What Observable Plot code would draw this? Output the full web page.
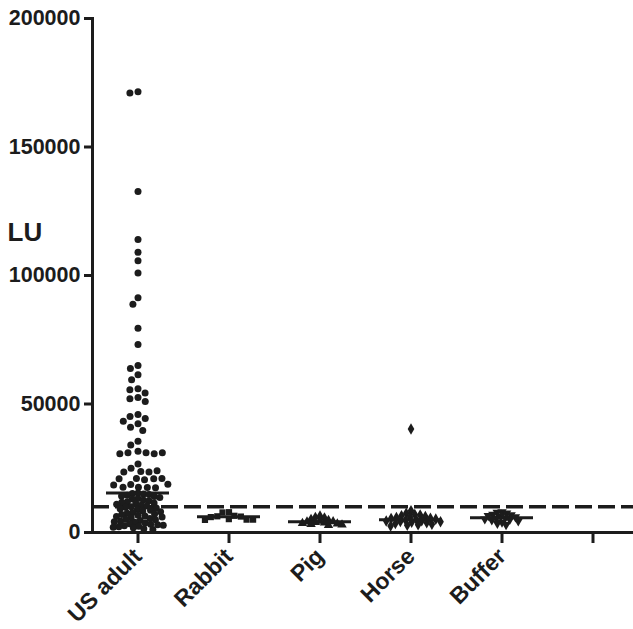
<!DOCTYPE html>
<html><head><meta charset="utf-8">
<script src="https://cdn.jsdelivr.net/npm/d3@7"></script>
<script src="https://cdn.jsdelivr.net/npm/@observablehq/plot@0.6"></script>
<style>html,body{margin:0;padding:0;background:#fff} svg{display:block}</style>
</head><body><div id="chart"></div>
<script>
const groups = ["US adult", "Rabbit", "Pig", "Horse", "Buffer", " "];
const usAdult = [171500, 171000, 132700, 114000, 109000, 105700, 101000, 91300, 88800, 79500,
  73200, 65000, 63800, 61400, 59400, 55900, 55500, 54300, 52500, 52000, 51000,
  45900, 45100, 44400, 43300, 42300, 41000, 39700, 35500, 34000,
  31600, 31000, 31000, 30600, 30600, 31000, 26700, 25000, 23700, 23500, 23500, 24000,
  21000, 20900, 20900, 21000, 20500, 18700, 18500, 18800, 17600, 17500, 17600, 17400,
  15400, 15200, 15000, 14800, 14500, 14200, 14000, 13600, 13200, 13000,
  12600, 12400, 12000, 11800, 11500, 11200, 11000, 10600, 10300, 10000,
  9800, 9500, 9200, 9000, 8700, 8400, 8100, 7800, 7500, 7200,
  7000, 6700, 6400, 6200, 6000, 5700, 5400, 5200, 5000, 4700,
  4400, 4200, 4000, 3700, 3400, 3200, 3000, 2800, 2600, 2400,
  2200, 2000, 1800, 1500, 1200];
const rabbit = [7900, 7800, 6500, 6300, 6200, 6000, 5200, 5000, 5000, 4900];
const pig = [6500, 6000, 5800, 5200, 4800, 4500, 4300, 4200, 4000, 3800, 3600, 3400, 3200, 3000, 2800];
const horse = [40300, 8500, 7500, 7000, 6800, 6500, 6200, 6000, 5800, 5500, 5400, 5200, 5000,
  4800, 4600, 4500, 4300, 4200, 4000, 3800, 3500, 3200, 3000, 2800, 2500];
const buffer = [8000, 7800, 7500, 7000, 6800, 6500, 6200, 6000, 5700, 5500, 5200, 5000, 4800, 4500, 4000, 3500, 3000];
const yTicks = [0, 50000, 100000, 150000, 200000];
const cutoff = 10000;
const yLabel = "LU";

const series = [usAdult, rabbit, pig, horse, buffer];
const data = series.flatMap((vals, i) => vals.map(v => ({group: groups[i], value: v})));

// swarm layers: [group, lower bound, upper bound, dodge padding]
const swarmLayers = [
  ["US adult", 16000, Infinity, 1.2],
  ["US adult", -Infinity, 16000, -1.4],
  ["Rabbit", -Infinity, Infinity, -0.5],
  ["Pig", -Infinity, Infinity, -2.2],
  ["Horse", -Infinity, Infinity, -1.6],
  ["Buffer", -Infinity, Infinity, -2.2]
];

const triangleDown = {
  draw(context, size) {
    const s3 = Math.sqrt(3);
    const y = -Math.sqrt(size / (s3 * 3));
    context.moveTo(0, -y * 2);
    context.lineTo(-s3 * y, y);
    context.lineTo(s3 * y, y);
    context.closePath();
  }
};

const ink = "#1c1c1c";
const dotMarks = swarmLayers.map(([g, lo, hi, pad]) =>
  Plot.dot(data.filter(d => d.group === g && d.value >= lo && d.value < hi),
    Plot.dodgeX({anchor: "middle", padding: pad},
      {fx: "group", y: "value", r: 3.5, symbol: "group", fill: ink, stroke: "none"})));

const chart = Plot.plot({
  width: 633, height: 629,
  marginTop: 18, marginBottom: 97, marginLeft: 92, marginRight: 0,
  style: {fontFamily: "'Liberation Sans', Arial, sans-serif", fontWeight: "bold", color: ink, background: "#fff", overflow: "visible"},
  fx: {domain: groups, range: [92, 638], padding: 0, label: null},
  y: {domain: [0, 200000], label: null},
  symbol: {domain: groups.slice(0, 5), range: [d3.symbolCircle, d3.symbolSquare, d3.symbolTriangle, d3.symbolDiamond, triangleDown]},
  marks: [
    Plot.ruleY([cutoff], {facetAnchor: "left", insetRight: -460, stroke: ink, strokeWidth: 3.5, strokeDasharray: "17,6"}),
    ...dotMarks,
    Plot.tickY(data, Plot.groupZ({y: "median"}, {fx: "group", y: "value", stroke: ink, strokeWidth: 3, insetLeft: 14, insetRight: 14})),
    Plot.ruleY([0], {facetAnchor: "left", insetRight: -460, stroke: ink, strokeWidth: 3}),
    Plot.frame({anchor: "left", facetAnchor: "left", stroke: ink, strokeWidth: 3}),
    Plot.axisY({ticks: yTicks, tickFormat: "d", tickSize: 8, tickPadding: 4, fontSize: 21.5, stroke: ink, strokeWidth: 3, label: null}),
    Plot.axisFx({anchor: "bottom", tickRotate: -45, tickSize: 11, tickPadding: 9, fontSize: 23, stroke: ink, strokeWidth: 3, label: null}),
    Plot.text([yLabel], {facetAnchor: "left", frameAnchor: "left", y: () => 116700, dx: -85, textAnchor: "start", fontSize: 26, fontWeight: "bold", fill: ink})
  ]
});
document.getElementById("chart").append(chart);
</script>
</body></html>
